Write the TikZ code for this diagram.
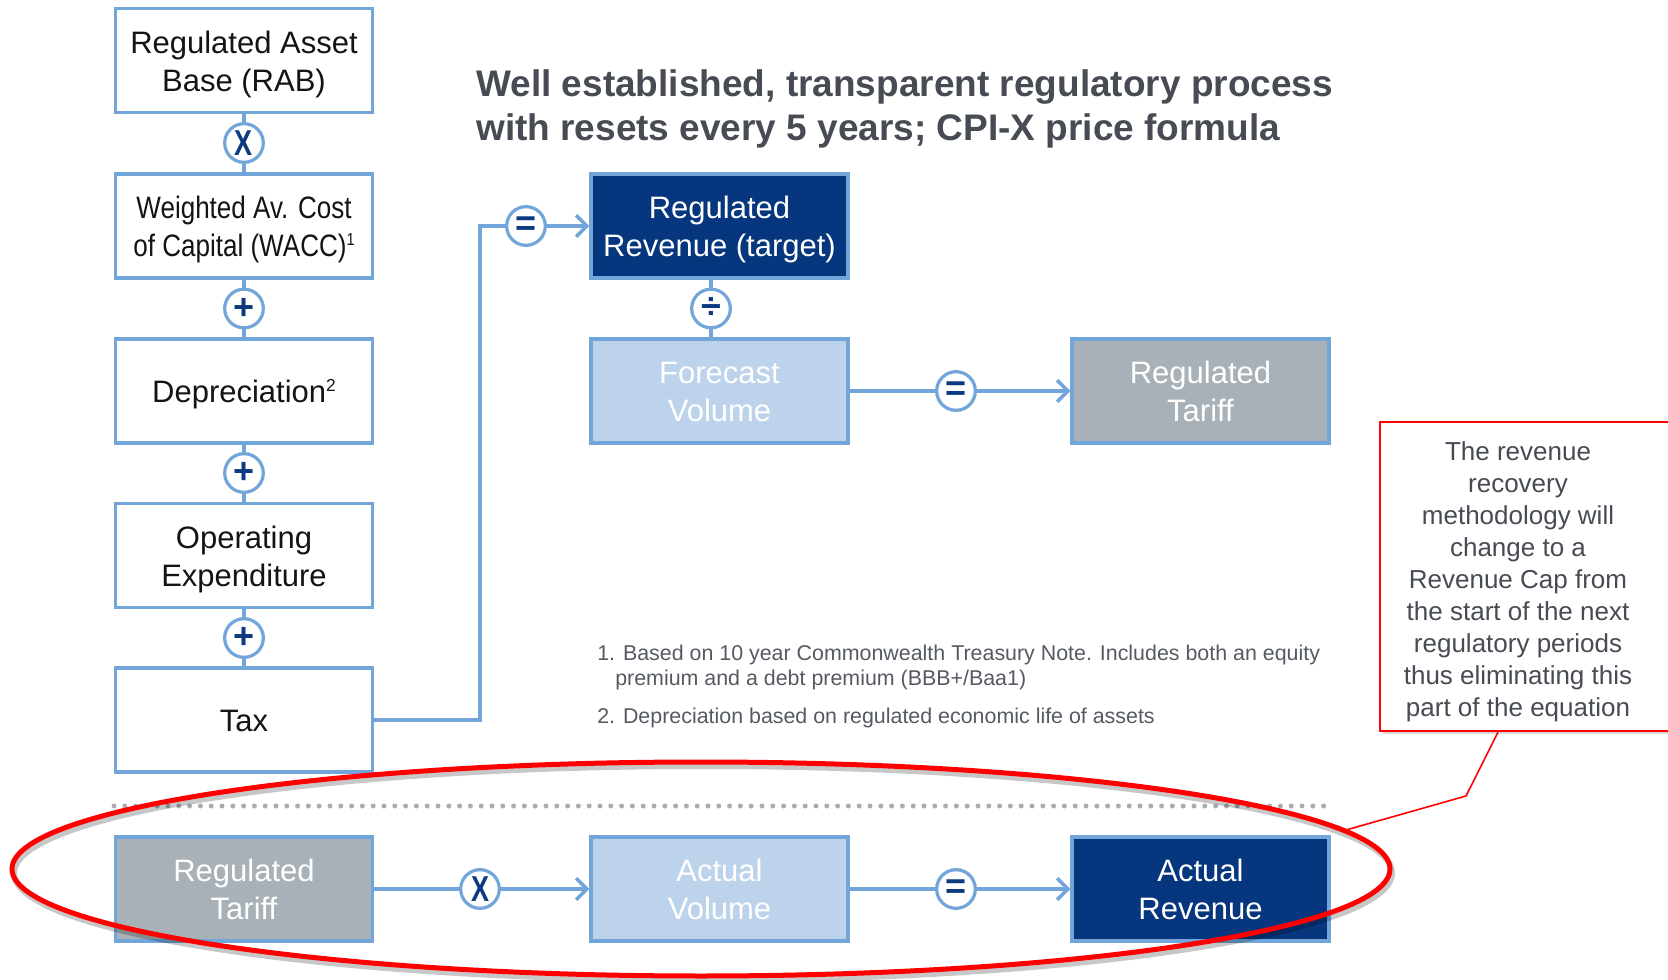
\documentclass[tikz,border=0pt]{standalone}
\usepackage{fontspec}
\setmainfont{Liberation Sans}
\newfontfamily\narrowfont[FakeStretch=0.84]{Liberation Sans}
\usetikzlibrary{arrows.meta,shadows,calc}
\definecolor{navy}{HTML}{06377E}
\definecolor{lightfill}{HTML}{BDD3EB}
\definecolor{greyfill}{HTML}{A8B1B7}
\definecolor{edgeblue}{HTML}{72A6DA}
\definecolor{slate}{HTML}{474B54}
\definecolor{notegrey}{HTML}{555A62}
\definecolor{dotgrey}{HTML}{A6AEB4}
\definecolor{symnavy}{HTML}{0B3A80}
\newcommand\boxtext[1]{\raisebox{-3pt}[\height][\depth]{\begin{tabular}{@{}c@{}}#1\end{tabular}}}
\newcommand\supnum[1]{\raisebox{8pt}{\fontsize{13}{13}\selectfont #1}}
\begin{document}
\begin{tikzpicture}[x=0.75pt,y=-0.75pt,
  box/.style={draw=edgeblue,line width=2.6pt,minimum width=192.75pt,minimum height=78pt,
    inner sep=0pt,font=\fontsize{23.25}{28.5}\selectfont},
  whitebox/.style={box,fill=white,text=black!92},
  navybox/.style={box,fill=navy,text=white},
  bluebox/.style={box,fill=lightfill,text=white},
  greybox/.style={box,fill=greyfill,text=white},
  op/.style={circle,draw=edgeblue,fill=white,line width=2.4pt,minimum size=29pt,inner sep=0pt,
    text=symnavy,font=\bfseries\fontsize{27}{27}\selectfont},
  conn/.style={draw=edgeblue,line width=2.6pt},
  arr/.style={conn,-{Straight Barb[length=8pt,width=16pt,line width=2.6pt]}},
  titletext/.style={anchor=base west,inner sep=0pt,text=slate,font=\bfseries\fontsize{27.75}{33}\selectfont},
  notetext/.style={anchor=base west,inner sep=0pt,text=notegrey,font=\fontsize{16.05}{19}\selectfont},
]
\useasboundingbox (0,0) rectangle (1668,980);
\clip (0,0) rectangle (1668,980);

% left column
\node[whitebox] (rab) at (244,60.5) {\boxtext{Regulated Asset\\Base (RAB)}};
\node[whitebox,font=\narrowfont\fontsize{23.25}{28.5}\selectfont] (wacc) at (244,226) {\boxtext{Weighted Av. Cost\\of Capital (WACC)\supnum{1}}};
\node[whitebox] (dep) at (244,391) {\boxtext{Depreciation\supnum{2}}};
\node[whitebox] (opex) at (244,555.5) {\boxtext{Operating\\Expenditure}};
\node[whitebox] (tax) at (244,720) {\boxtext{Tax}};

\node[op] (o1) at (244,143) {\scalebox{0.75}[1]{X}};
\node[op] (o2) at (244,308.5) {+};
\node[op] (o3) at (244,473) {+};
\node[op] (o4) at (244,638) {+};

\draw[conn] (rab.south) -- (o1.north);
\draw[conn] (o1.south) -- (wacc.north);
\draw[conn] (wacc.south) -- (o2.north);
\draw[conn] (o2.south) -- (dep.north);
\draw[conn] (dep.south) -- (o3.north);
\draw[conn] (o3.south) -- (opex.north);
\draw[conn] (opex.south) -- (o4.north);
\draw[conn] (o4.south) -- (tax.north);

% title
\node[titletext] (title1) at (476,97) {Well established, transparent regulatory process};
\node[titletext] (title2) at (476,141) {with resets every 5 years; CPI-X price formula};

% upper right
\node[navybox] (rr) at (719.5,226) {\boxtext{Regulated\\Revenue (target)}};
\node[bluebox] (fv) at (719.5,391) {\boxtext{Forecast\\Volume}};
\node[greybox] (rt) at (1200.5,391) {\boxtext{Regulated\\Tariff}};
\node[op] (eq1) at (526,226) {=};
\node[op] (dv) at (711,308.5) {÷};
\node[op] (eq2) at (956,391) {=};

\coordinate (bend) at (480,720);
\draw[conn] (tax.east) -- (tax.east -| bend) |- (eq1.west);
\draw[arr] (eq1.east) -- (rr.west);
\draw[conn] (rr.south -| dv) -- (dv.north);
\draw[conn] (dv.south) -- (dv |- fv.north);
\draw[conn] (fv.east) -- (eq2.west);
\draw[arr] (eq2.east) -- (rt.west);

% notes
\node[notetext] (n1a) at (597,660) {1. Based on 10 year Commonwealth Treasury Note. Includes both an equity};
\node[notetext] (n1b) at (615,685) {premium and a debt premium (BBB+/Baa1)};
\node[notetext] (n2) at (597,723) {2. Depreciation based on regulated economic life of assets};

% dotted separator
\draw[dotgrey,line width=3.75pt,line cap=round,dash pattern=on 0pt off 8.1pt] (114,806) -- (1331,806);

% bottom row
\node[greybox] (rt2) at (244,889) {\boxtext{Regulated\\Tariff}};
\node[bluebox] (av) at (719.5,889) {\boxtext{Actual\\Volume}};
\node[navybox] (ar) at (1200.5,889) {\boxtext{Actual\\Revenue}};
\node[op] (o5) at (480,889) {\scalebox{0.75}[1]{X}};
\node[op] (eq3) at (956,889) {=};
\draw[conn] (rt2.east) -- (o5.west);
\draw[arr] (o5.east) -- (av.west);
\draw[conn] (av.east) -- (eq3.west);
\draw[arr] (eq3.east) -- (ar.west);

% red ellipse
\draw[black,opacity=0.22,line width=4.5pt] (703,873) ellipse [x radius=516.75pt, y radius=80.25pt];
\draw[red,line width=3.75pt] (701,869) ellipse [x radius=516.75pt, y radius=80.25pt];

% callout
\node[draw=red,line width=1.6pt,fill=white,minimum width=240pt,minimum height=231.75pt,inner sep=0pt,
  drop shadow={shadow xshift=2pt,shadow yshift=-2.5pt,opacity=0.3}] (note) at (1540,576.5) {};
\node[align=center,inner sep=0pt,text=slate,font=\fontsize{19.5}{24}\selectfont] (notetxt) at (1518,581.5)
  {The revenue\\recovery\\methodology will\\change to a\\Revenue Cap from\\the start of the next\\regulatory periods\\thus eliminating this\\part of the equation};
\coordinate (pstart) at (1498,731);
\coordinate (pbend) at (1466,796);
\coordinate (ptip) at (1346,830);
\draw[red,line width=1.2pt] (note.south -| pstart) -- (pbend) -- (ptip);
\end{tikzpicture}
\end{document}
